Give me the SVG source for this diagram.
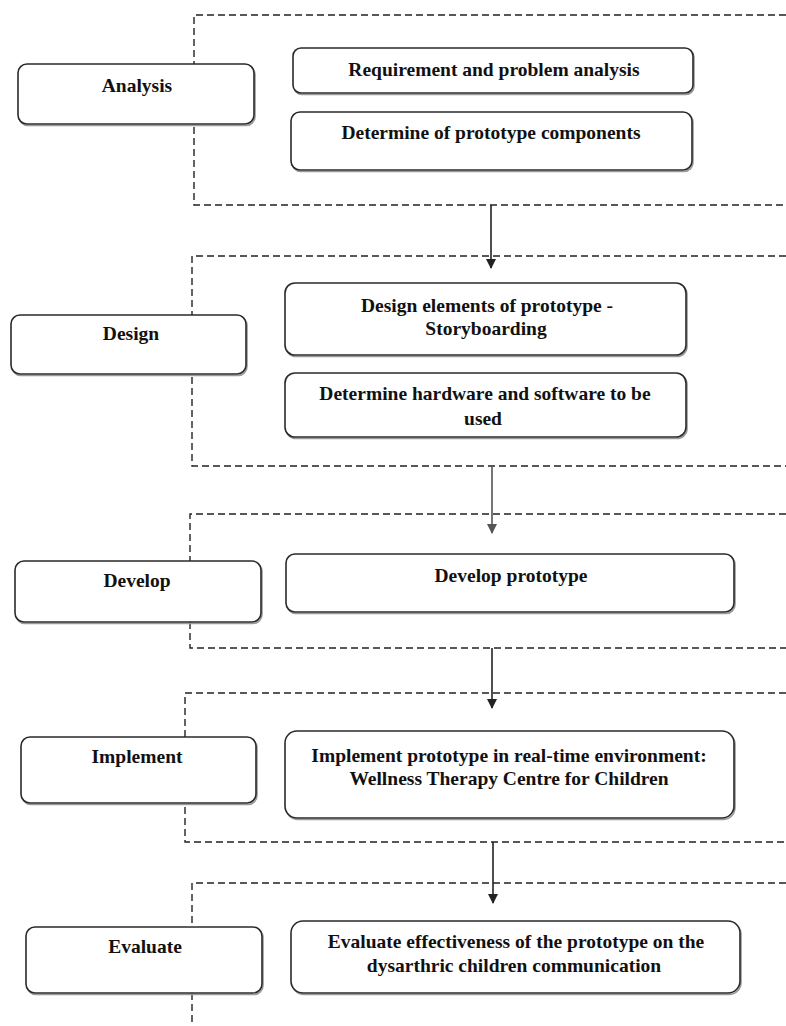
<svg xmlns="http://www.w3.org/2000/svg" width="786" height="1026" viewBox="0 0 786 1026">
<style>
.bg{fill:#fff}
.box{fill:#fff;stroke:#2a2a2a;stroke-width:1.6}
.sh{fill:none;stroke:#9a9a9a;stroke-width:1.6}
.dash{fill:none;stroke:#222;stroke-width:1.4;stroke-dasharray:7 4}
.t{font-family:"Liberation Serif","Times New Roman",serif;font-weight:bold;font-size:19.5px;fill:#111;text-anchor:middle}
.arr{fill:none;stroke:#222;stroke-width:1.6}
</style>
<defs>
<marker id="ah" markerWidth="10" markerHeight="10" refX="9" refY="5" orient="auto" markerUnits="userSpaceOnUse">
<path d="M0,0 L10,5 L0,10 Z" fill="#222"/>
</marker>
<marker id="ahg" markerWidth="10" markerHeight="10" refX="9" refY="5" orient="auto" markerUnits="userSpaceOnUse">
<path d="M0,0 L10,5 L0,10 Z" fill="#555"/>
</marker>
</defs>
<rect class="bg" x="0" y="0" width="786" height="1026"/>

<g id="groups">
<path class="dash" d="M786,15 H194 V205 H786"/>
<path class="dash" d="M786,256 H192 V466 H786"/>
<path class="dash" d="M786,514 H190 V648 H786"/>
<path class="dash" d="M786,693 H185 V842 H786"/>
<path class="dash" d="M786,883 H192 V1026"/>
</g>

<g id="connectors">
<path class="arr" d="M491,205 V268" marker-end="url(#ah)"/>
<path class="arr" d="M492,466 V533" stroke="#555" style="stroke:#555" marker-end="url(#ahg)"/>
<path class="arr" d="M492,648 V708" marker-end="url(#ah)"/>
<path class="arr" d="M493,842 V903" marker-end="url(#ah)"/>
</g>

<g id="analysis">
<rect class="sh" x="19" y="65.5" width="236" height="60" rx="9"/>
<rect class="box" x="18" y="64" width="236" height="60" rx="9"/>
<text class="t" x="137" y="92">Analysis</text>
</g>
<g id="requirement">
<rect class="sh" x="294" y="49.5" width="400" height="45" rx="8"/>
<rect class="box" x="293" y="48" width="400" height="45" rx="8"/>
<text class="t" x="494" y="76">Requirement and problem analysis</text>
</g>
<g id="components">
<rect class="sh" x="292" y="113.5" width="401" height="58" rx="9"/>
<rect class="box" x="291" y="112" width="401" height="58" rx="9"/>
<text class="t" x="491" y="139">Determine of prototype components</text>
</g>

<g id="design">
<rect class="sh" x="12" y="316.5" width="235" height="59" rx="9"/>
<rect class="box" x="11" y="315" width="235" height="59" rx="9"/>
<text class="t" x="131" y="340">Design</text>
</g>
<g id="storyboarding">
<rect class="sh" x="286" y="284.5" width="401" height="72" rx="10"/>
<rect class="box" x="285" y="283" width="401" height="72" rx="10"/>
<text class="t" x="487" y="312">Design elements of prototype -</text>
<text class="t" x="486" y="335">Storyboarding</text>
</g>
<g id="hardware">
<rect class="sh" x="286" y="374.5" width="401" height="64" rx="10"/>
<rect class="box" x="285" y="373" width="401" height="64" rx="10"/>
<text class="t" x="485" y="400">Determine hardware and software to be</text>
<text class="t" x="483" y="425">used</text>
</g>

<g id="develop">
<rect class="sh" x="16" y="562.5" width="246" height="61" rx="9"/>
<rect class="box" x="15" y="561" width="246" height="61" rx="9"/>
<text class="t" x="137" y="587">Develop</text>
</g>
<g id="develop-prototype">
<rect class="sh" x="287" y="555.5" width="448" height="58" rx="9"/>
<rect class="box" x="286" y="554" width="448" height="58" rx="9"/>
<text class="t" x="511" y="582">Develop prototype</text>
</g>

<g id="implement">
<rect class="sh" x="22" y="738.5" width="235" height="66" rx="9"/>
<rect class="box" x="21" y="737" width="235" height="66" rx="9"/>
<text class="t" x="137" y="763">Implement</text>
</g>
<g id="implement-prototype">
<rect class="sh" x="286" y="732.5" width="449" height="87" rx="12"/>
<rect class="box" x="285" y="731" width="449" height="87" rx="12"/>
<text class="t" x="509" y="762">Implement prototype in real-time environment:</text>
<text class="t" x="509" y="785">Wellness Therapy Centre for Children</text>
</g>

<g id="evaluate">
<rect class="sh" x="27" y="928.5" width="236" height="66" rx="9"/>
<rect class="box" x="26" y="927" width="236" height="66" rx="9"/>
<text class="t" x="145" y="953">Evaluate</text>
</g>
<g id="evaluate-effectiveness">
<rect class="sh" x="292" y="922.5" width="449" height="72" rx="12"/>
<rect class="box" x="291" y="921" width="449" height="72" rx="12"/>
<text class="t" x="516" y="948">Evaluate effectiveness of the prototype on the</text>
<text class="t" x="514" y="972">dysarthric children communication</text>
</g>
</svg>
